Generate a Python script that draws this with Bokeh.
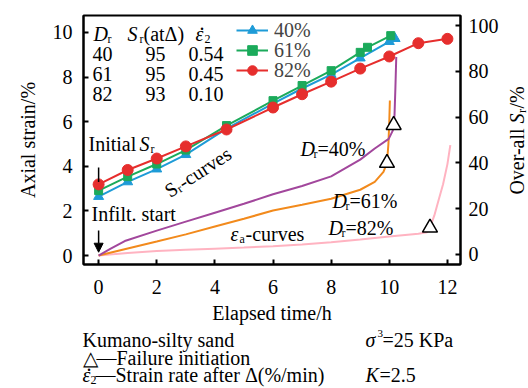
import math
from bokeh.plotting import figure
from bokeh.layouts import column, row
from bokeh.models import (Range1d, LinearAxis, Label, Legend, LegendItem, Arrow,
                          NormalHead, FixedTicker)
from bokeh.embed import file_html
from bokeh.resources import INLINE

# ---------------- data ----------------
# S_r curves (right axis, %)
t_40 = [0, 1, 2, 3, 4.4, 6, 7, 8, 9, 10, 10.2]
sr_40 = [25.3, 31.7, 37.3, 43.6, 55.0, 65.9, 72.5, 78.6, 85.8, 93.0, 94.3]
t_61 = [0, 1, 2, 3, 4.4, 6, 7, 8, 9, 9.25, 10.05]
sr_61 = [27.9, 34.0, 39.5, 45.6, 56.3, 67.2, 73.8, 80.3, 88.3, 90.5, 95.6]
t_82 = [0, 1, 2, 3, 4.4, 6, 7, 8, 9, 10, 11, 12]
sr_82 = [30.6, 36.9, 41.9, 47.2, 54.6, 64.2, 70.0, 75.5, 81.2, 86.5, 92.3, 94.2]

# axial strain curves (left axis, %)
ta_40 = [0, 0.4, 0.9, 2, 3, 4, 5, 6, 7, 8, 9, 9.5, 9.98, 10.12, 10.18, 10.21, 10.24]
ea_40 = [0, 0.3, 0.65, 1.12, 1.52, 1.92, 2.32, 2.75, 3.12, 3.55, 4.3, 4.8, 5.23, 5.6, 6.3, 7.5, 8.9]
ta_61 = [0, 1, 2, 3, 4, 5, 6, 7, 8, 9, 9.5, 9.8, 9.92, 9.97, 10.0, 10.02]
ea_61 = [0, 0.32, 0.63, 0.95, 1.3, 1.65, 2.02, 2.28, 2.55, 2.95, 3.3, 3.75, 4.15, 5.0, 6.0, 6.95]
ta_82 = [0, 1, 2, 3, 4, 5, 6, 7, 8, 9, 10, 11, 11.3, 11.4, 11.55, 11.7, 11.85, 12.0, 12.1]
ea_82 = [0, 0.12, 0.2, 0.26, 0.31, 0.36, 0.42, 0.5, 0.6, 0.72, 0.85, 0.98, 1.05, 1.25, 1.8,
         2.5, 3.2, 4.1, 4.95]

# failure initiation points
fail_t = [10.15, 9.92, 11.4]
fail_e = [5.85, 4.15, 1.25]

legend_labels = ["40%", "61%", "82%"]
table_rows = [("40", "95", "0.54"), ("61", "95", "0.45"), ("82", "93", "0.10")]
x_ticks = [0, 2, 4, 6, 8, 10, 12]
yl_ticks = [0, 2, 4, 6, 8, 10]
yr_ticks = [0, 20, 40, 60, 80, 100]

# ---------------- style ----------------
FONT = "Liberation Serif"
FS = "20px"
SUB = "12px"
BLUE = "#1E9BD7"
GREEN = "#1BAA5B"
RED = "#E62E2D"
PURPLE = "#A2479C"
ORANGE = "#F28A1C"
PINK = "#FFB3C1"

W_MAIN, H_MAIN = 504, 328
FL, FT, FR, FB = 83, 15, 460, 264  # frame edges in page pixels

p = figure(width=W_MAIN, height=H_MAIN, output_backend="svg", toolbar_location=None,
           x_range=Range1d(-0.52, 12.45), y_range=Range1d(-0.4, 10.76),
           min_border_left=FL, min_border_right=W_MAIN - FR, min_border_top=FT,
           min_border_bottom=H_MAIN - FB)
p.extra_y_ranges = {"sr": Range1d(-4.4, 104.4)}
p.grid.visible = False
p.outline_line_color = "black"
p.outline_line_width = 2
p.outline_line_alpha = 1


def style_axis(ax, ticks, standoff):
    ax.ticker = FixedTicker(ticks=ticks)
    ax.major_tick_in = 5
    ax.major_tick_out = 0
    ax.minor_tick_line_color = None
    ax.major_tick_line_width = 2
    ax.axis_line_width = 2
    ax.axis_line_color = "black"
    ax.major_tick_line_color = "black"
    ax.major_label_text_font = FONT
    ax.major_label_text_font_size = FS
    ax.major_label_text_color = "black"
    ax.major_label_standoff = standoff
    ax.axis_label_text_font = FONT
    ax.axis_label_text_font_size = FS
    ax.axis_label_text_font_style = "normal"
    ax.axis_label_text_color = "black"


style_axis(p.xaxis[0], x_ticks, 15)
p.xaxis[0].axis_label = "Elapsed time/h"
p.xaxis[0].axis_label_standoff = 5
style_axis(p.yaxis[0], yl_ticks, 11)
p.yaxis[0].axis_label = "Axial strain/%"
p.yaxis[0].axis_label_standoff = 11
rax = LinearAxis(y_range_name="sr")
style_axis(rax, yr_ticks, 8)
p.add_layout(rax, "right")

# epsilon_a curves
p.line(ta_82, ea_82, color=PINK, line_width=2)
p.line(ta_61, ea_61, color=ORANGE, line_width=2)
p.line(ta_40, ea_40, color=PURPLE, line_width=2)

# S_r curves
l40 = p.line(t_40, sr_40, color=BLUE, line_width=2, y_range_name="sr")
s40 = p.scatter(t_40, sr_40, marker="triangle", size=10, color=BLUE, y_range_name="sr")
l61 = p.line(t_61, sr_61, color=GREEN, line_width=2, y_range_name="sr")
s61 = p.scatter(t_61, sr_61, marker="square", size=8, color=GREEN, y_range_name="sr")
l82 = p.line(t_82, sr_82, color=RED, line_width=2, y_range_name="sr")
s82 = p.scatter(t_82, sr_82, marker="circle", size=11, color=RED, y_range_name="sr")

# failure initiation
p.scatter(fail_t, fail_e, marker="triangle", size=15, fill_color="white",
          line_color="black", line_width=1.5)

# legend: one single-entry legend per row, rows 20 px apart
for i, (lbl, rends) in enumerate(zip(legend_labels, [[l40, s40], [l61, s61], [l82, s82]])):
    row_center = 30 + 20 * i          # page y of the row centre
    lg = Legend(items=[LegendItem(label=lbl, renderers=rends)],
                location=(153, FB - (row_center + 12)), label_text_font=FONT,
                label_text_font_size=FS, glyph_width=32, glyph_height=24, label_height=24,
                spacing=0, padding=0, margin=0, label_standoff=6,
                background_fill_alpha=0, border_line_alpha=0)
    p.add_layout(lg)

# arrows
p.add_layout(Arrow(end=NormalHead(size=9, fill_color="black", line_color="black"),
                   x_start=0, y_start=1.12, x_end=0, y_end=0.15,
                   line_color="black", line_width=1.5))
p.line([0, 0], [3.95, 3.3], color="black", line_width=1.5)


def make_lab(fig, ox, oy):
    """Label helper: page pixel coords -> screen coords of the figure's frame."""
    def lab(px, py, text, size=FS, style="normal", align="left", baseline="middle",
            angle=0.0):
        fig.add_layout(Label(x=px - ox, y=oy - py, x_units="screen", y_units="screen",
                             text=text, text_font=FONT, text_font_size=size,
                             text_font_style=style, text_align=align,
                             text_baseline=baseline, angle=angle, text_color="black"))
    return lab


lab = make_lab(p, FL, FB)


def eps_dot(lab, px, py):
    lab(px, py, "\u03b5", style="italic")
    lab(px + 4, py - 11, ".")


# table
lab(93, 33, "D", style="italic")
lab(107, 38, "r", size=SUB)
lab(127, 33, "S", style="italic")
lab(139, 38, "r", size=SUB)
lab(143, 33, "(at\u0394)")
eps_dot(lab, 195, 33)
lab(204, 38, "2", size=SUB)
for i, (a, b, c) in enumerate(table_rows):
    yy = 53 + 20 * i
    lab(92, yy, a)
    lab(145, yy, b)
    lab(188, yy, c)

# Initial S_r / Infilt. start
lab(88, 143, "Initial")
lab(139, 143, "S", style="italic")
lab(150, 148, "r", size=SUB)
lab(91, 213, "Infilt. start")

# S_r-curves rotated
ang = math.radians(33)
cx, cy = 166, 192
dx, dy = math.cos(ang), -math.sin(ang)
nx, ny = math.sin(ang), math.cos(ang)
lab(cx, cy, "S", baseline="alphabetic", angle=ang)
o = 11.2
lab(cx + dx * o + nx * 4, cy + dy * o + ny * 4, "r", size=SUB, baseline="alphabetic", angle=ang)
o = 16
lab(cx + dx * o, cy + dy * o, "-curves", baseline="alphabetic", angle=ang)

# D_r labels
for (x0, y0, txt) in [(300, 148, "=40%"), (332, 200, "=61%"), (328, 227, "=82%")]:
    lab(x0, y0, "D", style="italic")
    lab(x0 + 13, y0 + 5, "r", size=SUB)
    lab(x0 + 17, y0, txt)

# eps_a-curves
lab(230, 233, "\u03b5", style="italic")
lab(239, 238, "a", size=SUB)
lab(245, 233, "-curves")

# ---------------- right axis title (own narrow panel, frame aligned with main) ----
W_R = 528 - W_MAIN
pr = figure(width=W_R, height=H_MAIN, output_backend="svg", toolbar_location=None,
            x_axis_type=None, y_axis_type=None, title=None,
            x_range=Range1d(0, 1), y_range=Range1d(0, 1), min_border=0)
pr.grid.visible = False
pr.outline_line_color = None


def rlab(px, py, text, size=FS, style="normal"):
    pr.add_layout(Label(x=px - W_MAIN, y=FB - py, x_units="screen", y_units="screen",
                        text=text, text_font=FONT, text_font_size=size,
                        text_font_style=style, text_align="center",
                        text_baseline="middle", angle=math.pi / 2, text_color="black"))


rlab(516, 161, "Over-all")
rlab(516, 118, "S", style="italic")
rlab(521, 110.5, "r", size=SUB)
rlab(516, 97, "/%")

# ---------------- notes panel ----------------
H_N = 388 - H_MAIN
pn = figure(width=528, height=H_N, output_backend="svg", toolbar_location=None,
            x_axis_type=None, y_axis_type=None, title=None,
            x_range=Range1d(0, 1), y_range=Range1d(0, 1), min_border=0)
pn.grid.visible = False
pn.outline_line_color = None
labn = make_lab(pn, 0, 388)
labn(82, 339, "Kumano-silty sand")
labn(365, 339, "\u03c3", style="italic")
labn(377, 333, "3", size="11px")
labn(382, 339, "=25 KPa")
labn(82, 357, "\u25b3")
labn(96, 357, "\u2014Failure initiation")
eps_dot(labn, 82, 374)
labn(90, 379, "2", size=SUB)
labn(95, 374, "\u2014Strain rate after \u0394(%/min)")
labn(365, 374, "K", style="italic")
labn(379, 374, "=2.5")

layout = column(row(p, pr, spacing=0), pn, spacing=0)
open("out.html", "w").write(file_html(layout, INLINE))
